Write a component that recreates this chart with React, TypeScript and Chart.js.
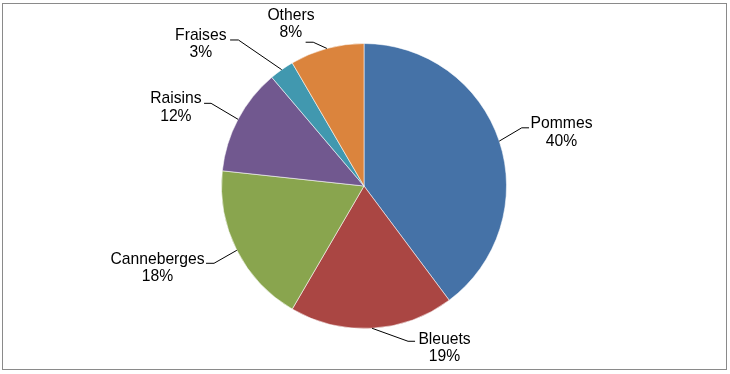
import React, { useEffect, useRef } from "react";
import { Chart, registerables } from "chart.js";

Chart.register(...registerables);

const categories = ["Pommes", "Bleuets", "Canneberges", "Raisins", "Fraises", "Others"];
const values = [39.8, 18.6, 18.3, 12.1, 2.8, 8.4];
const sliceColors = ["#4572A7", "#AA4643", "#89A54E", "#71588F", "#4198AF", "#DB843D"];

// leader/label layout relative to the slice's mid-angle point on the rim
// e: elbow offset, h: end of horizontal stub, t: label centre x / first baseline offset
const labelLayout = [
  { ex: 22.5, ey: -13.3, hx: 29.8, tx: 62.3, ty: -13 },
  { ex: 36, ey: 13, hx: 43, tx: 72.5, ty: 15.7 },
  { ex: -22.8, ey: 13, hx: -30.8, tx: -79.3, ty: 13.7 },
  { ex: -27, ey: -16, hx: -34, tx: -62.2, ty: -16 },
  { ex: -43.3, ey: -29.7, hx: -51.6, tx: -80.9, ty: -29.7 },
  { ex: -13.6, ey: -6.2, hx: -21.2, tx: -35.9, ty: -28.5 },
];

const labelPlugin = {
  id: "pieLabels",
  beforeDraw(chart: any) {
    const ctx = chart.ctx;
    ctx.save();
    ctx.fillStyle = "#ffffff";
    ctx.fillRect(0, 0, chart.width, chart.height);
    ctx.strokeStyle = "#8a8a8a";
    ctx.lineWidth = 1;
    ctx.strokeRect(2.5, 3.5, 724, 366);
    ctx.restore();
  },
  afterDatasetsDraw(chart: any) {
    const ctx = chart.ctx;
    const meta = chart.getDatasetMeta(0);
    const data = chart.data.datasets[0].data as number[];
    const total = data.reduce((a, b) => a + b, 0);
    ctx.save();
    ctx.font = "15.7px 'Liberation Sans', Arial, sans-serif";
    ctx.fillStyle = "#000000";
    ctx.strokeStyle = "#000000";
    ctx.lineWidth = 1;
    ctx.textAlign = "center";
    ctx.textBaseline = "alphabetic";
    meta.data.forEach((arc: any, i: number) => {
      const p = arc.getProps(["x", "y", "startAngle", "endAngle", "outerRadius"], true);
      const mid = (p.startAngle + p.endAngle) / 2;
      const ax = p.x + Math.cos(mid) * p.outerRadius;
      const ay = p.y + Math.sin(mid) * p.outerRadius;
      const l = labelLayout[i];
      ctx.beginPath();
      ctx.moveTo(ax, ay);
      ctx.lineTo(ax + l.ex, ay + l.ey);
      ctx.lineTo(ax + l.hx, ay + l.ey);
      ctx.stroke();
      const pct = Math.round((data[i] / total) * 100) + "%";
      const tx = ax + l.tx;
      const ty = ay + l.ty;
      ctx.fillText(chart.data.labels[i], tx, ty);
      ctx.fillText(pct, tx, ty + 17.5);
    });
    ctx.restore();
  },
};

export default function App() {
  const ref = useRef<HTMLCanvasElement | null>(null);
  useEffect(() => {
    document.body.style.margin = "0";
    const canvas = ref.current!;
    const chart = new Chart(canvas, {
      type: "pie",
      data: {
        labels: categories,
        datasets: [
          {
            data: values,
            backgroundColor: sliceColors,
            borderColor: "rgba(255,255,255,0.55)",
            borderWidth: 1,
          },
        ],
      },
      options: {
        responsive: false,
        animation: false,
        layout: { padding: { top: 43, bottom: 45, left: 0, right: 2 } },
        plugins: {
          legend: { display: false },
          tooltip: { enabled: false },
        },
      },
      plugins: [labelPlugin],
    });
    return () => chart.destroy();
  }, []);
  return (
    <div style={{ width: 730, height: 374 }}>
      <canvas ref={ref} width={730} height={374} style={{ display: "block" }} />
    </div>
  );
}
